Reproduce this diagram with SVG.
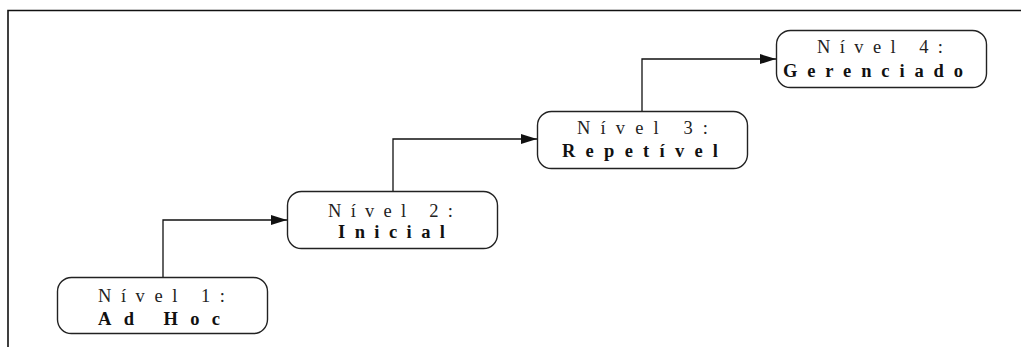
<svg xmlns="http://www.w3.org/2000/svg" width="1021" height="347" viewBox="0 0 1021 347">
  <style>
    .frame { fill: none; stroke: #111; stroke-width: 1.6; }
    .box { fill: #fff; stroke: #222; stroke-width: 1.4; }
    .lbl { font-family: "Liberation Serif", "Times New Roman", serif; font-size: 18.5px; fill: #111; }
    .lvl { fill: #222; }
    .name { font-weight: bold; }
    .wire { fill: none; stroke: #111; stroke-width: 1.3; }
  </style>
  <defs>
    <marker id="arrow" markerWidth="16" markerHeight="10" refX="16" refY="5" orient="auto" markerUnits="userSpaceOnUse">
      <path d="M0,0 L16,5 L0,10 Z" fill="#111"/>
    </marker>
  </defs>
  <rect width="1021" height="347" fill="#fff"/>
  <!-- outer frame, open to the right and bottom -->
  <path class="frame" d="M8,347 L8,10.5 L1021,10.5"/>

  <g id="connectors">
    <path class="wire" d="M163,277 L163,220 L287,220" marker-end="url(#arrow)"/>
    <path class="wire" d="M393,191 L393,139 L537,139" marker-end="url(#arrow)"/>
    <path class="wire" d="M642,111 L642,59 L776,59" marker-end="url(#arrow)"/>
  </g>

  <g id="nivel1">
    <rect class="box" x="57.5" y="277.5" width="210" height="56" rx="14"/>
    <text class="lbl lvl" x="98" y="302" textLength="127" lengthAdjust="spacing">Nível 1:</text>
    <text class="lbl name" x="98" y="325" textLength="122" lengthAdjust="spacing">Ad Hoc</text>
  </g>
  <g id="nivel2">
    <rect class="box" x="287.5" y="191.5" width="210" height="57" rx="14"/>
    <text class="lbl lvl" x="328" y="217" textLength="125" lengthAdjust="spacing">Nível 2:</text>
    <text class="lbl name" x="338" y="238" textLength="107" lengthAdjust="spacing">Inicial</text>
  </g>
  <g id="nivel3">
    <rect class="box" x="537.5" y="111.5" width="210" height="57" rx="14"/>
    <text class="lbl lvl" x="577" y="134" textLength="131" lengthAdjust="spacing">Nível 3:</text>
    <text class="lbl name" x="562" y="157" textLength="156" lengthAdjust="spacing">Repetível</text>
  </g>
  <g id="nivel4">
    <rect class="box" x="776.5" y="30.5" width="210" height="57" rx="14"/>
    <text class="lbl lvl" x="817" y="53" textLength="126" lengthAdjust="spacing">Nível 4:</text>
    <text class="lbl name" x="783" y="77" textLength="180" lengthAdjust="spacing">Gerenciado</text>
  </g>
</svg>
